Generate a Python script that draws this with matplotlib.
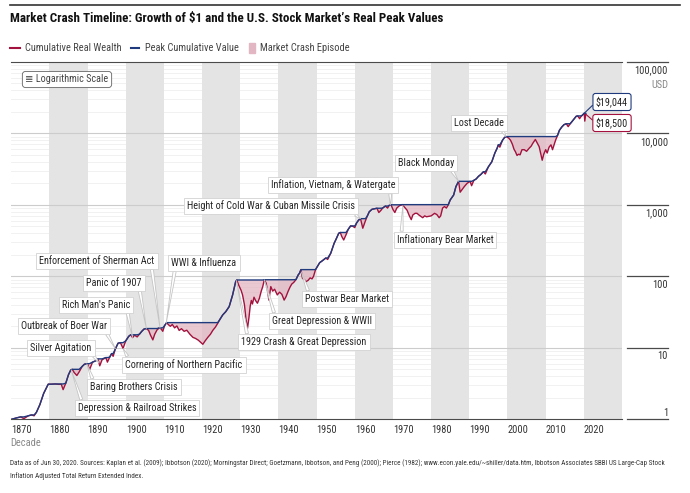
import numpy as np
import matplotlib
matplotlib.use("Agg")
import matplotlib.pyplot as plt
from matplotlib import font_manager
from matplotlib.patches import Rectangle
from matplotlib.lines import Line2D

# pick a narrow face if one is around
fonts = [(f.name, str(f.stretch)) for f in font_manager.fontManager.ttflist]
FAMILY, STRETCH = 'Roboto', 'normal'
for name, st in [('Liberation Sans Narrow', None), ('Roboto Condensed', None),
                 ('Open Sans Condensed', None), ('DejaVu Sans', 'condensed'),
                 ('Roboto', 'condensed'), ('Open Sans', 'condensed')]:
    hit = [s for n, s in fonts if n == name and (st is None or s in ('condensed', 'semi-condensed', '75', '87.5'))]
    if hit:
        FAMILY, STRETCH = name, (st or 'normal')
        break
plt.rcParams['font.family'] = [FAMILY, 'DejaVu Sans']
plt.rcParams['font.stretch'] = STRETCH

# ---- data ----
years = [1870.1, 1871.5, 1872.5, 1873.3, 1874.5, 1875.3, 1876.0, 1876.6, 1877.5, 1878.5,
         1879.7, 1880.5, 1881.5, 1882.5, 1883.1, 1883.6, 1884.3, 1885.0, 1885.6, 1886.0,
         1886.5, 1887.2, 1887.8, 1888.6, 1889.2, 1890.0, 1890.5, 1891.3, 1892.2, 1892.7,
         1893.2, 1893.8, 1894.8, 1895.2, 1895.8, 1896.3, 1896.7, 1897.3, 1898.0, 1898.6,
         1899.3, 1900.0, 1900.8, 1901.3, 1901.8, 1902.3, 1903.0, 1903.6, 1904.2, 1904.8,
         1905.4, 1906.0, 1906.5, 1907.1, 1907.6, 1908.2, 1908.8, 1909.3, 1909.7, 1910.2,
         1910.7, 1911.2, 1911.7, 1912.2, 1912.8, 1913.4, 1914.0, 1914.6, 1915.3, 1916.0,
         1916.8, 1917.6, 1918.3, 1919.0, 1919.6, 1920.2, 1920.8, 1921.5, 1922.2, 1922.8,
         1923.5, 1924.1, 1924.6, 1925.4, 1926.2, 1927.1, 1928.0, 1928.8, 1929.1, 1929.6,
         1930.2, 1930.6, 1931.1, 1931.5, 1931.9, 1932.3, 1932.6, 1932.9, 1933.2, 1933.6,
         1934.0, 1934.5, 1935.0, 1935.5, 1935.9, 1936.3, 1936.8, 1937.2, 1937.5, 1938.0,
         1938.5, 1939.0, 1939.7, 1940.3, 1940.9, 1941.5, 1942.0, 1942.5, 1943.0, 1943.5,
         1944.0, 1944.6, 1945.2, 1945.5, 1945.9, 1946.3, 1946.8, 1947.2, 1947.8, 1948.3,
         1948.8, 1949.2, 1949.7, 1950.3, 1950.8, 1951.5, 1952.4, 1952.9, 1953.7, 1954.2,
         1954.6, 1955.1, 1955.8, 1956.2, 1956.6, 1957.1, 1957.7, 1958.3, 1958.9, 1959.5,
         1960.0, 1960.5, 1961.0, 1961.5, 1962.1, 1962.8, 1963.3, 1963.8, 1964.5, 1965.2,
         1965.8, 1966.3, 1966.8, 1967.3, 1968.0, 1968.6, 1969.0, 1969.5, 1970.0, 1970.5,
         1971.0, 1971.7, 1972.4, 1973.0, 1973.7, 1974.3, 1974.8, 1975.2, 1975.8, 1976.3,
         1976.8, 1977.3, 1977.8, 1978.3, 1978.8, 1979.4, 1980.0, 1980.3, 1980.9, 1981.5,
         1982.1, 1982.5, 1983.0, 1983.5, 1984.0, 1984.5, 1985.0, 1985.9, 1986.5, 1987.2,
         1987.6, 1988.0, 1988.7, 1989.4, 1990.2, 1990.6, 1991.2, 1991.8, 1992.4, 1993.0,
         1993.7, 1994.2, 1995.0, 1995.9, 1996.7, 1997.3, 1997.6, 1998.0, 1998.7, 1999.2,
         1999.6, 2000.3, 2000.8, 2001.3, 2001.7, 2002.1, 2002.5, 2002.9, 2003.3, 2003.8,
         2004.4, 2005.0, 2005.7, 2006.2, 2006.6, 2007.3, 2007.8, 2008.3, 2008.7, 2009.1,
         2009.5, 2010.0, 2010.4, 2010.9, 2011.4, 2011.8, 2012.2, 2012.6, 2013.1, 2013.6,
         2014.2, 2014.8, 2015.4, 2015.9, 2016.4, 2016.9, 2017.5, 2018.0, 2018.4, 2018.9,
         2019.1, 2019.5, 2020.1, 2020.25, 2020.5]
wealth = [1.00, 1.05, 1.08, 1.02, 1.12, 1.15, 1.12, 1.25, 1.6, 2.3,
          3.1, 3.1, 3.12, 3.08, 3.1, 2.6, 3.2, 4.2, 4.9, 5.0,
          4.5, 4.1, 4.6, 5.5, 5.9, 6.0, 4.9, 6.3, 6.6, 7.0,
          5.6, 6.8, 7.3, 6.3, 7.4, 8.3, 7.6, 9.7, 11.6, 11.8,
          9.8, 12.5, 14.5, 15.2, 13.9, 15.0, 14.2, 15.5, 17.0, 18.3,
          18.6, 17.5, 15.0, 12.9, 15.5, 17.8, 19.0, 18.3, 17.0, 20.5,
          22.5, 21.0, 20.0, 21.2, 19.0, 20.2, 17.5, 18.5, 17.0, 17.6,
          15.5, 14.0, 13.5, 12.8, 12.0, 11.2, 12.5, 14.0, 15.5, 17.5,
          19.5, 22.0, 24.6, 28.8, 32.0, 37.7, 54.9, 84.3, 88.8, 75,
          64, 55, 40, 25, 18.7, 27, 38, 46, 41, 51,
          46, 42, 49, 62, 72, 89.5, 80, 60, 46.5, 71.8,
          62, 66, 54.9, 60, 56, 46.5, 52, 61, 70, 78,
          82, 90, 105, 110, 124, 93.6, 90, 84, 88, 95,
          92, 100, 123, 140, 155, 165, 180, 172, 210, 250,
          290, 330, 400, 410, 360, 322, 380, 455, 506, 500,
          480, 560, 610, 640, 470, 600, 700, 800, 865, 880,
          895, 780, 830, 900, 960, 900, 980, 1000, 860, 780,
          900, 970, 1005, 930, 840, 700, 620, 720, 760, 760,
          720, 690, 660, 700, 680, 690, 700, 720, 760, 730,
          660, 700, 900, 945, 900, 1000, 1170, 1370, 1800, 2130,
          1500, 1600, 1800, 1990, 2130, 1850, 2200, 2300, 2500, 2650,
          2900, 2700, 3400, 4000, 5300, 6200, 6900, 6400, 8000, 8700,
          9000, 8600, 8000, 7000, 6000, 5500, 4900, 5100, 5000, 5900,
          5900, 5600, 6200, 6600, 7200, 8200, 7300, 6500, 5200, 4200,
          5100, 5900, 5300, 6400, 6900, 5900, 6900, 8000, 9300, 11000,
          12200, 13200, 13600, 12400, 13500, 14600, 16000, 17300, 17500, 16000,
          16700, 17700, 19044, 14800, 18500]

decades = list(range(1870, 2030, 10))
y_ticks = [1, 10, 100, 1000, 10000, 100000]
y_labels = ["1", "10", "100", "1,000", "10,000", "100,000"]

# episode label, year the callout points at, label centre in pixels, where the pointer leaves the box
episodes = [
    ("Depression & Railroad Strikes", 1885.7, 137, 408, (0.04, 1)),
    ("Baring Brothers Crisis", 1889.8, 134, 387, (0.04, 1)),
    ("Cornering of Northern Pacific", 1899.3, 184, 365, (0.03, 1)),
    ("Silver Agitation", 1893.0, 61, 348, (0.95, 0.4)),
    ("Outbreak of Boer War", 1897.3, 64, 326, (0.96, 0.3)),
    ("Rich Man's Panic", 1901.8, 96, 305, (0.95, 0.2)),
    ("Panic of 1907", 1905.4, 114, 283, (0.95, 0.2)),
    ("Enforcement of Sherman Act", 1909.0, 97, 261, (0.97, 0.2)),
    ("WWI & Influenza", 1910.6, 204, 263, (0.06, 0.1)),
    ("1929 Crash & Great Depression", 1929.0, 304, 342, (0.05, 1)),
    ("Great Depression & WWII", 1936.3, 322, 321, (0.03, 1)),
    ("Postwar Bear Market", 1946.0, 347, 299, (0.05, 1)),
    ("Height of Cold War & Cuban Missile Crisis", 1961.5, 271, 206, (0.97, 0.1)),
    ("Inflation, Vietnam, & Watergate", 1969.3, 333, 185, (0.96, 0.1)),
    ("Inflationary Bear Market", 1972.6, 445, 240, (0.05, 0.9)),
    ("Black Monday", 1987.2, 426, 163, (0.92, 0.1)),
    ("Lost Decade", 1999.6, 479, 123, (0.93, 0.1)),
]

RED = '#a3123e'
BLUE = '#1f3b7d'
PINK = '#e2b6c2'
BAND = '#e4e4e4'
DARK = '#4a4a4a'

# shrink text a bit when no narrow face was found
SC = 1.0 if STRETCH != 'normal' or FAMILY != 'Roboto' else 0.86
FS = 7.5 * SC

W, H = 690, 493
def fx(x):
    return x / W
def fy(y):
    return 1 - y / H

fig = plt.figure(figsize=(W / 100, H / 100), dpi=100)
ax = fig.add_axes([fx(11.2), fy(419.3), (622 - 11.2) / W, (419.3 - 61.8) / H])

yrs = np.array(years)
w = np.array(wealth)
peak = np.maximum.accumulate(w)

ax.set_xlim(1870, 2030)
ax.set_yscale('log')
ax.set_ylim(1, 1e5)

for base in [1, 10, 100, 1000, 10000]:
    for k in range(2, 10):
        ax.axhline(base * k, color='#efefef', lw=0.6, zorder=0)
for d in range(1880, 2030, 20):
    ax.axvspan(d, d + 10, color=BAND, lw=0, zorder=0.5)
for v in y_ticks[1:-1]:
    ax.axhline(v, color='#cccccc', lw=0.8, zorder=1)

ax.fill_between(yrs, w, peak, where=w < peak, interpolate=True,
                color=PINK, alpha=0.75, lw=0, zorder=2)
ax.plot(yrs, w, color=RED, lw=1.0, zorder=3)
ax.plot(yrs, peak, color=BLUE, lw=1.0, zorder=4)

for s in ax.spines.values():
    s.set_visible(False)
for side in ['bottom', 'top']:
    ax.spines[side].set_visible(True)
    ax.spines[side].set_color(DARK)
ax.set_xticks([])
ax.set_yticks([])
ax.minorticks_off()

for d in decades:
    ax.text(d, -0.03, str(d), transform=ax.get_xaxis_transform(), ha='left', va='center',
            fontsize=FS, color='#333333')
fig.text(fx(10), fy(443.5), "Decade", fontsize=FS, color='#888888', va='center')

for v, lab in zip(y_ticks, y_labels):
    yy = 419.3 - np.log10(v) * 71.5
    fig.add_artist(Line2D([fx(627), fx(668)], [fy(yy), fy(yy)], color=DARK, lw=0.9))
    off = -6 if v == 1 else 8.5
    fig.text(fx(668), fy(yy + off), lab, ha='right', va='center', fontsize=FS, color='#333333')
fig.text(fx(668), fy(84.5), "USD", ha='right', va='center', fontsize=FS, color='#888888')

logw = np.log10(w)
for lab, yr, tx, ty, rp in episodes:
    val = 10 ** np.interp(yr, yrs, logw)
    ax.annotate(lab, xy=(yr, val), xycoords='data', xytext=(fx(tx), fy(ty)),
                textcoords='figure fraction', ha='center', va='center', fontsize=7.3 * SC,
                color='#262626', zorder=6,
                bbox=dict(boxstyle='square,pad=0.3', fc='white', ec='#d2d2d2', lw=0.6),
                arrowprops=dict(arrowstyle='wedge,tail_width=0.3,shrink_factor=0.5',
                                fc='white', ec='#c4c4c4', lw=0.6, relpos=rp,
                                shrinkA=0, shrinkB=0))

for lab, i, col, ty in [("$19,044", -3, BLUE, 102), ("$18,500", -1, RED, 123)]:
    ax.annotate(lab, xy=(yrs[i], w[i]), xytext=(fx(612), fy(ty)),
                textcoords='figure fraction', ha='center', va='center', fontsize=7.3 * SC,
                color='#222222', zorder=7, annotation_clip=False,
                bbox=dict(boxstyle='round,pad=0.3,rounding_size=0.25', fc='white', ec=col, lw=0.8),
                arrowprops=dict(arrowstyle='-', color=col, lw=0.8, shrinkA=0, shrinkB=0,
                                relpos=(0, 0.5)))

fig.text(fx(67), fy(79.5), "\u2263 Logarithmic Scale", ha='center', va='center', fontsize=7.3 * SC,
         color='#444444',
         bbox=dict(boxstyle='round,pad=0.3,rounding_size=0.3', fc='white', ec='#777777', lw=0.7))

fig.add_artist(Line2D([fx(10), fx(680)], [fy(5), fy(5)], color='#333333', lw=1.2))
fig.text(fx(10), fy(18.5), "Market Crash Timeline: Growth of $1 and the U.S. Stock Market\u2019s Real Peak Values",
         fontsize=9.35 * SC, fontweight='bold', color='#111111', va='center')
fig.add_artist(Line2D([fx(10), fx(20)], [fy(48), fy(48)], color=RED, lw=1.5))
fig.text(fx(25), fy(48), "Cumulative Real Wealth", fontsize=FS, color='#444444', va='center')
fig.add_artist(Line2D([fx(131), fx(139)], [fy(48), fy(48)], color=BLUE, lw=1.5))
fig.text(fx(145), fy(48), "Peak Cumulative Value", fontsize=FS, color='#444444', va='center')
fig.add_artist(Rectangle((fx(249), fy(53)), 6 / W, 10 / H, color=PINK))
fig.text(fx(260), fy(48), "Market Crash Episode", fontsize=FS, color='#444444', va='center')

fig.text(fx(10), fy(463), "Data as of Jun 30, 2020. Sources: Kaplan et al. (2009); Ibbotson (2020); Morningstar Direct; "
         "Goetzmann, Ibbotson, and Peng (2000); Pierce (1982); www.econ.yale.edu/~shiller/data.htm, "
         "Ibbotson Associates SBBI US Large-Cap Stock", fontsize=5.12 * SC, color='#333333', va='center')
fig.text(fx(10), fy(476), "Inflation Adjusted Total Return Extended Index.", fontsize=5.12 * SC,
         color='#333333', va='center')

fig.savefig("out.png", dpi=100)
